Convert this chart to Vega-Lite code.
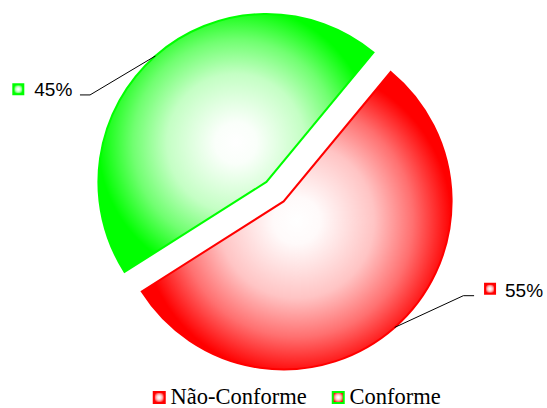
{
  "$schema": "https://vega.github.io/schema/vega-lite/v6.json",
  "width": 547,
  "height": 408,
  "autosize": "none",
  "padding": 0,
  "background": "white",
  "config": {"view": {"stroke": null}},
  "params": [
    {
      "name": "degradeVermelho",
      "value": {"gradient": "radial", "x1": 0.5, "y1": 0.5, "r1": 0, "x2": 0.5, "y2": 0.5, "r2": 0.5,
                "stops": [
                  {"offset": 0, "color": "#ffffff"},
                  {"offset": 0.15, "color": "#fffafa"},
                  {"offset": 0.5, "color": "#ffc4c4"},
                  {"offset": 0.75, "color": "#ff7070"},
                  {"offset": 1, "color": "#ff0000"}
                ]}
    },
    {
      "name": "degradeVerde",
      "value": {"gradient": "radial", "x1": 0.5, "y1": 0.5, "r1": 0, "x2": 0.5, "y2": 0.5, "r2": 0.5,
                "stops": [
                  {"offset": 0, "color": "#ffffff"},
                  {"offset": 0.15, "color": "#fafffa"},
                  {"offset": 0.5, "color": "#c4ffc4"},
                  {"offset": 0.75, "color": "#70ff70"},
                  {"offset": 1, "color": "#00ff00"}
                ]}
    }
  ],
  "data": {
    "values": [
      {"categoria": "Não-Conforme", "valor": 0.55},
      {"categoria": "Conforme", "valor": 0.45}
    ]
  },
  "layer": [
    {
      "mark": {
        "type": "arc",
        "outerRadius": {"expr": "scale('x', 1) - scale('x', 0)"},
        "strokeWidth": 2,
        "fill": {"expr": "datum.categoria === 'Conforme' ? degradeVerde : degradeVermelho"},
        "xOffset": {"expr": "13 * sin((scale('theta', datum.valor_start) + scale('theta', datum.valor_end)) / 2)"},
        "yOffset": {"expr": "-13 * cos((scale('theta', datum.valor_start) + scale('theta', datum.valor_end)) / 2)"}
      },
      "encoding": {
        "x": {"datum": 0, "type": "quantitative", "scale": {"domain": [-1.637, 1.619], "nice": false, "zero": false}, "axis": null},
        "y": {"datum": 0, "type": "quantitative", "scale": {"domain": [-1.2875, 1.141], "nice": false, "zero": false}, "axis": null},
        "theta": {"field": "valor", "type": "quantitative", "stack": true, "scale": {"range": [4.147, 10.430]}},
        "order": {"field": "categoria", "type": "nominal", "sort": "ascending"},
        "stroke": {
          "field": "categoria",
          "type": "nominal",
          "scale": {"domain": ["Não-Conforme", "Conforme"], "range": ["#ff0000", "#00ff00"]},
          "legend": {
            "title": null,
            "orient": "none",
            "legendX": 148,
            "legendY": 386,
            "direction": "horizontal",
            "symbolType": "square",
            "symbolSize": 121,
            "symbolStrokeWidth": 2,
            "labelFont": "Liberation Serif",
            "labelFontSize": 22.5,
            "labelColor": "black",
            "labelOffset": 0,
            "columnPadding": 20,
            "padding": 0,
            "encode": {
              "symbols": {
                "update": {
                  "fill": {"signal": "datum.value === 'Conforme' ? degradeVerde : degradeVermelho"},
                  "opacity": {"value": 1}
                }
              }
            }
          }
        }
      }
    },
    {
      "transform": [{"filter": "datum.categoria === 'Conforme'"}],
      "layer": [
        {
          "mark": {"type": "rule", "color": "black", "strokeWidth": 1},
          "encoding": {
            "x": {"datum": -0.712, "type": "quantitative"},
            "y": {"datum": 0.808, "type": "quantitative"},
            "x2": {"datum": -1.101},
            "y2": {"datum": 0.576}
          }
        },
        {
          "mark": {"type": "rule", "color": "black", "strokeWidth": 1},
          "encoding": {
            "x": {"datum": -1.101, "type": "quantitative"},
            "y": {"datum": 0.576, "type": "quantitative"},
            "x2": {"datum": -1.161}
          }
        },
        {
          "mark": {"type": "point", "shape": "square", "size": 100, "strokeWidth": 2, "opacity": 1,
                   "fill": {"expr": "degradeVerde"}},
          "encoding": {
            "x": {"datum": -1.528, "type": "quantitative"},
            "y": {"datum": 0.610, "type": "quantitative"},
            "stroke": {"field": "categoria", "type": "nominal"}
          }
        },
        {
          "mark": {"type": "text", "align": "left", "baseline": "alphabetic", "font": "Liberation Sans", "fontSize": 19, "fill": "black"},
          "encoding": {
            "x": {"datum": -1.433, "type": "quantitative"},
            "y": {"datum": 0.570, "type": "quantitative"},
            "text": {"field": "valor", "type": "quantitative", "format": ".0%"}
          }
        }
      ]
    },
    {
      "transform": [{"filter": "datum.categoria === 'Não-Conforme'"}],
      "layer": [
        {
          "mark": {"type": "rule", "color": "black", "strokeWidth": 1},
          "encoding": {
            "x": {"datum": 0.712, "type": "quantitative"},
            "y": {"datum": -0.808, "type": "quantitative"},
            "x2": {"datum": 1.121},
            "y2": {"datum": -0.619}
          }
        },
        {
          "mark": {"type": "rule", "color": "black", "strokeWidth": 1},
          "encoding": {
            "x": {"datum": 1.121, "type": "quantitative"},
            "y": {"datum": -0.619, "type": "quantitative"},
            "x2": {"datum": 1.185}
          }
        },
        {
          "mark": {"type": "point", "shape": "square", "size": 100, "strokeWidth": 2, "opacity": 1,
                   "fill": {"expr": "degradeVermelho"}},
          "encoding": {
            "x": {"datum": 1.280, "type": "quantitative"},
            "y": {"datum": -0.578, "type": "quantitative"},
            "stroke": {"field": "categoria", "type": "nominal"}
          }
        },
        {
          "mark": {"type": "text", "align": "left", "baseline": "alphabetic", "font": "Liberation Sans", "fontSize": 19, "fill": "black"},
          "encoding": {
            "x": {"datum": 1.369, "type": "quantitative"},
            "y": {"datum": -0.625, "type": "quantitative"},
            "text": {"field": "valor", "type": "quantitative", "format": ".0%"}
          }
        }
      ]
    }
  ]
}
